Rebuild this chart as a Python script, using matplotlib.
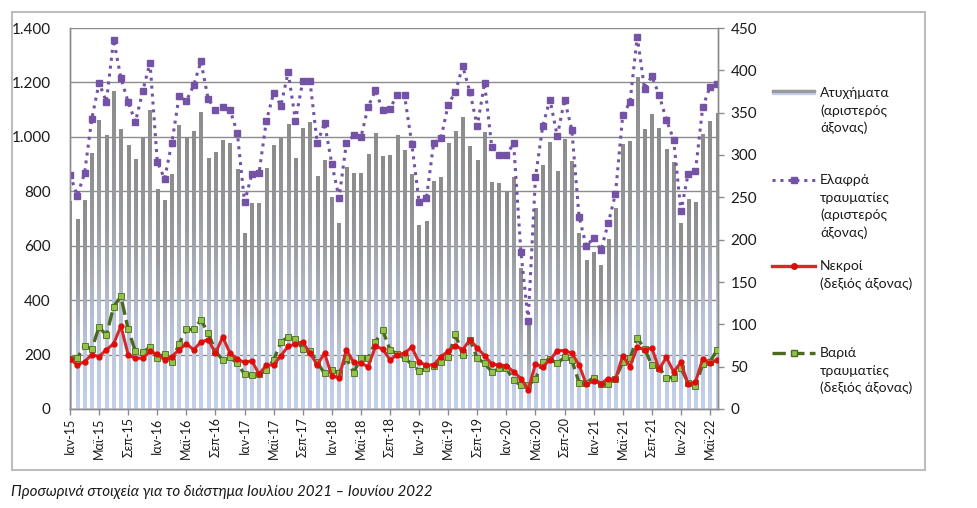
import numpy as np
import matplotlib
matplotlib.use('Agg')
import matplotlib.pyplot as plt
from matplotlib.colors import LinearSegmentedColormap
from matplotlib.lines import Line2D
from matplotlib.patches import Rectangle
from matplotlib.ticker import FuncFormatter

plt.rcParams['font.family'] = ['Lato', 'Noto Sans', 'DejaVu Sans']

# ── Data: monthly, Jan 2015 - Jun 2022 ──
months_gr = ['Ιαν', 'Φεβ', 'Μαρ', 'Απρ', 'Μαϊ', 'Ιουν',
             'Ιουλ', 'Αυγ', 'Σεπ', 'Οκτ', 'Νοε', 'Δεκ']
years = list(range(15, 23))
labels = [f'{m}-{y}' for y in years for m in months_gr][:90]

accidents = [
    762, 698, 767, 939, 1061, 1004, 1168, 1027, 967, 917, 996, 1098,
    807, 766, 861, 1040, 996, 1018, 1090, 920, 944, 987, 974, 879,
    644, 755, 755, 883, 967, 998, 1046, 920, 1032, 1054, 855, 912,
    776, 682, 888, 867, 865, 935, 1011, 928, 930, 1006, 951, 861,
    673, 690, 835, 852, 974, 1021, 1070, 966, 913, 1017, 834, 827,
    796, 850, 518, 321, 735, 895, 978, 874, 991, 908, 646, 545,
    575, 526, 621, 737, 972, 982, 1217, 1027, 1082, 1029, 955, 904,
    680, 768, 760, 1010, 1056, 1085,
]
light_inj = [
    861, 784, 866, 1067, 1198, 1129, 1357, 1216, 1127, 1055, 1168, 1273,
    909, 846, 977, 1149, 1132, 1189, 1277, 1139, 1100, 1110, 1099, 1016,
    760, 863, 868, 1059, 1161, 1115, 1238, 1060, 1204, 1204, 976, 1051,
    900, 776, 976, 1006, 998, 1111, 1171, 1098, 1104, 1155, 1152, 974,
    761, 774, 976, 994, 1118, 1166, 1260, 1163, 1039, 1198, 961, 934,
    933, 976, 576, 325, 851, 1040, 1137, 1002, 1137, 1026, 705, 598,
    629, 583, 682, 790, 1079, 1128, 1368, 1176, 1223, 1154, 1063, 990,
    726, 865, 873, 1110, 1183, 1194,
]
deaths = [
    59, 52, 56, 64, 62, 70, 77, 98, 64, 60, 60, 68,
    65, 58, 62, 70, 77, 70, 79, 82, 66, 85, 66, 59,
    55, 57, 41, 52, 52, 63, 74, 77, 79, 66, 52, 66,
    39, 37, 70, 55, 54, 50, 74, 71, 58, 64, 66, 73,
    55, 52, 52, 62, 68, 75, 70, 82, 72, 63, 53, 52,
    51, 44, 36, 23, 53, 50, 58, 69, 69, 66, 52, 29,
    33, 30, 36, 35, 63, 50, 73, 70, 72, 47, 61, 44,
    55, 29, 32, 59, 54, 58,
]
serious_inj = [
    59, 60, 75, 71, 97, 87, 121, 133, 94, 68, 67, 73,
    60, 65, 56, 77, 94, 94, 105, 90, 68, 58, 61, 54,
    41, 40, 41, 46, 58, 79, 85, 83, 71, 69, 55, 42,
    46, 43, 60, 43, 60, 60, 79, 93, 70, 65, 60, 53,
    45, 48, 51, 55, 61, 88, 64, 82, 60, 54, 44, 48,
    48, 34, 28, 28, 35, 56, 59, 54, 61, 58, 31, 31,
    37, 29, 30, 36, 55, 60, 84, 71, 52, 49, 37, 37,
    48, 31, 27, 53, 56, 70,
]

x = np.arange(len(accidents))

C_PURPLE = '#7453a6'
C_RED = '#d42a2a'
C_RED_M = '#e00a0a'
C_GREEN = '#4b6a1f'
C_GREEN_M = '#8fc34a'
C_GRID = '#8c8c8c'
C_TEXT = '#1a1a1a'

W, H = 977, 508
fig = plt.figure(figsize=(W / 100, H / 100), dpi=100)

def fx(px):
    return px / W

def fy(py):
    return 1 - py / H

# outer chart frame
fig.patches.append(Rectangle((fx(12), fy(470)), fx(913), 458 / H,
                             transform=fig.transFigure, fill=False,
                             edgecolor='#bdbdbd', linewidth=1.5))

ax = fig.add_axes([fx(70), fy(409), fx(648), (409 - 28) / H])
ax2 = ax.twinx()

# bars with a vertical gradient (light blue bottom -> grey top)
cmap = LinearSegmentedColormap.from_list('bar', ['#c4d1ec', '#b8c2d6', '#9a9ca2', '#8c8c8c'])
grad = np.linspace(0, 1, 100).reshape(-1, 1)
bw = 0.45
for xi, h in zip(x, accidents):
    ax.imshow(grad, extent=(xi - bw / 2, xi + bw / 2, 0, h), origin='lower',
              aspect='auto', cmap=cmap, zorder=1, interpolation='bilinear')

ax.plot(x, light_inj, linestyle=(0, (1, 1.6)), color=C_PURPLE, linewidth=2.2,
        marker='s', markersize=4.5, markerfacecolor=C_PURPLE,
        markeredgecolor=C_PURPLE, zorder=3)

ax2.plot(x, serious_inj, linestyle=(0, (4, 1.6)), color=C_GREEN, linewidth=2.4,
         marker='s', markersize=4.5, markerfacecolor=C_GREEN_M,
         markeredgecolor=C_GREEN, markeredgewidth=0.6, zorder=3)
ax2.plot(x, deaths, color=C_RED, linewidth=2.2, marker='o', markersize=3.5,
         markerfacecolor=C_RED_M, markeredgecolor=C_RED_M, zorder=4)

ax.set_xlim(0, 89.1)
ax.set_ylim(0, 1400)
ax2.set_ylim(0, 450)
ax.set_yticks(range(0, 1401, 200))
ax2.set_yticks(range(0, 451, 50))
ax.yaxis.set_major_formatter(FuncFormatter(lambda v, p: f'{int(v):,}'.replace(',', '.')))

ax.set_axisbelow(True)
ax.grid(axis='y', color=C_GRID, linewidth=1.0, zorder=0)
ax.set_xticks(x[::4])
ax.set_xticklabels(labels[::4], rotation=90, fontsize=9, color=C_TEXT)
ax.tick_params(axis='x', length=4, width=1, color=C_GRID, pad=2)
ax.tick_params(axis='y', length=0, pad=14, labelsize=11, labelcolor=C_TEXT)
ax2.tick_params(axis='y', length=4, width=1, color=C_GRID, pad=5,
                labelsize=11, labelcolor=C_TEXT)

for a in (ax, ax2):
    a.spines['top'].set_visible(False)
    for s in ('left', 'right', 'bottom'):
        a.spines[s].set_color(C_GRID)
        a.spines[s].set_linewidth(1.0)
ax2.patch.set_visible(False)

# ── manual legend ──
lx0, lx1, tx = 772, 815, 820
step = 17.5

fig.patches.append(Rectangle((fx(lx0), fy(94)), fx(lx1 - lx0), 4 / H,
                             transform=fig.transFigure, color='#c4d1ec'))
fig.patches.append(Rectangle((fx(lx0), fy(92)), fx(lx1 - lx0), 2 / H,
                             transform=fig.transFigure, color='#9a9a9a'))

def swatch(y, color, ls, lw, marker, ms, mfc, mec):
    fig.lines.append(Line2D([fx(lx0), fx(lx1)], [fy(y), fy(y)],
                            transform=fig.transFigure, color=color,
                            linestyle=ls, linewidth=lw))
    fig.lines.append(Line2D([fx((lx0 + lx1) / 2)], [fy(y)],
                            transform=fig.transFigure, linestyle='none',
                            marker=marker, markersize=ms,
                            markerfacecolor=mfc, markeredgecolor=mec))

swatch(180, C_PURPLE, (0, (1, 1.6)), 2.2, 's', 4.5, C_PURPLE, C_PURPLE)
swatch(266, C_RED, '-', 2.4, 'o', 4, C_RED_M, C_RED_M)
swatch(353, C_GREEN, (0, (4, 1.6)), 2.4, 's', 4.5, C_GREEN_M, C_GREEN)

legend_entries = [
    (93, ['Ατυχήματα', '(αριστερός', 'άξονας)']),
    (180, ['Ελαφρά', 'τραυματίες', '(αριστερός', 'άξονας)']),
    (266, ['Νεκροί', '(δεξιός άξονας)']),
    (353, ['Βαριά', 'τραυματίες', '(δεξιός άξονας)']),
]
for y0, lines in legend_entries:
    for i, t in enumerate(lines):
        fig.text(fx(tx), fy(y0 + i * step), t, fontsize=10, color=C_TEXT,
                 ha='left', va='center')

fig.text(fx(11), fy(492), 'Προσωρινά στοιχεία για το διάστημα Ιουλίου 2021 – Ιουνίου 2022',
         fontsize=10.9, style='italic', color=C_TEXT, ha='left', va='center')

fig.savefig('out.png', dpi=100, facecolor='white')
